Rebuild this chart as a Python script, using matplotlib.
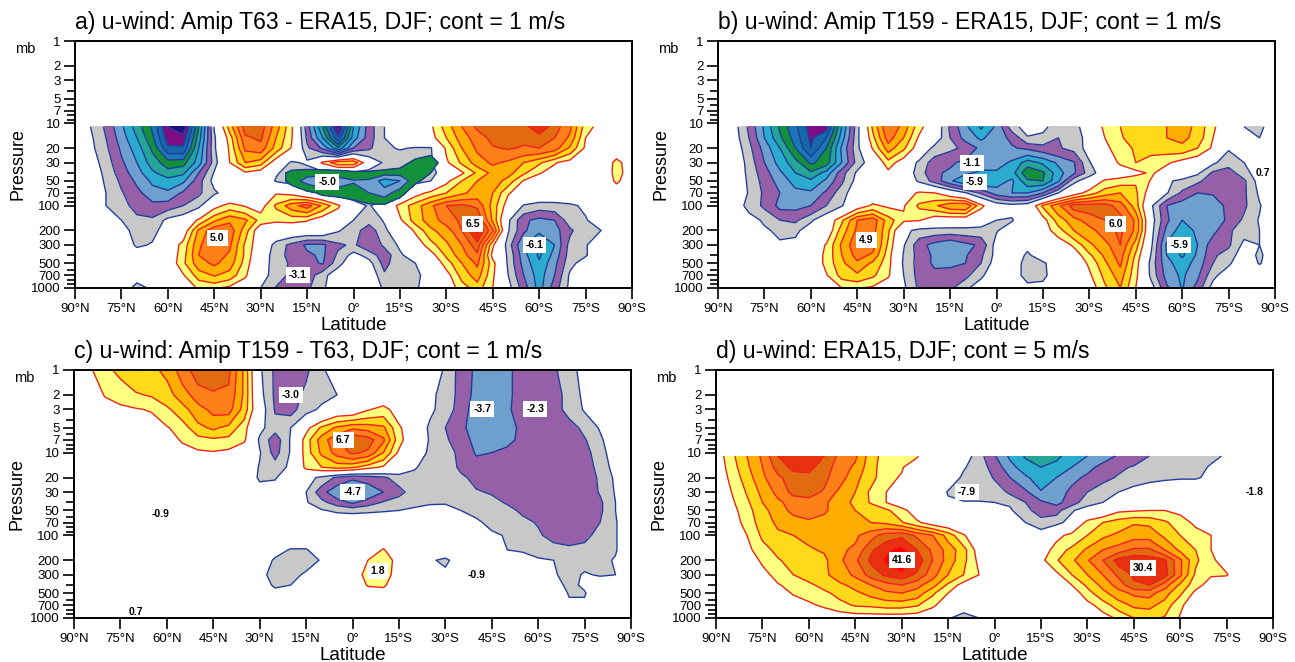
import numpy as np
import matplotlib
matplotlib.use('Agg')
import matplotlib.pyplot as plt

plt.rcParams['font.family'] = ['Liberation Sans', 'DejaVu Sans']

W, H = 1295, 662

# latitude columns, 90N (+) to 90S (-), every 5 deg
lat = np.arange(90, -95, -5)

# all fields in tenths of one contour interval
# columns: 90N ... 0 | 5S ... 90S
p_upper = [11, 15, 20, 30, 40, 50, 70, 100, 150, 200, 300, 400, 500, 700, 1000]
p_c = [1, 2, 3, 5, 7, 10, 15, 20, 30, 40, 50, 70, 100, 150, 200, 300, 400, 500, 1000]
p_patch = [15, 20, 30, 40, 50, 70, 100, 150]

wind_a = [
    [0,-10,-22,-38,-55,-72,-100,-108,-60,-9,25,55,55,35,12,-25,-60,-105,-50, -25,-10,-3,3,8,25,40,52,56,56,56,68,55,42,15,5,2,1],
    [0,-8,-20,-35,-50,-68,-95,-96,-55,-12,15,48,52,30,11,-22,-50,-88,-45, -25,-10,-5,2,6,20,35,45,53,54,52,55,50,38,10,4,2,1],
    [0,-7,-18,-32,-45,-62,-88,-88,-50,-12,12,42,46,26,9,-18,-32,-58,-30, -22,-12,-9,-11,-11,12,30,42,49,51,49,50,45,28,8,2,3,1],
    [0,-4,-15,-28,-40,-55,-65,-64,-45,-15,10,30,25,2,-12,-8,12,28,28, 0,-12,-18,-18,-12,8,22,35,42,38,30,22,11,5,2,1,13,4],
    [0,-2,-13,-25,-36,-48,-56,-52,-30,-9,4,8,3,-9,-14,-16,-15,-14,-14, -15,-16,-18,-18,-14,-3,8,22,33,34,22,11,5,2,0,0,14,4],
    [0,0,-12,-22,-32,-42,-46,-42,-24,-6,1,1,-1,-11,-15,-15,-15,-15,-15, -15,-15,-15,-14,-10,7,20,30,36,26,9,3,1,0,0,1,12,3],
    [0,0,-10,-19,-27,-36,-38,-28,-22,-12,-4,-1,0,9,6,-5,-9,-15,-16, -17,-18,-12,5,13,20,28,34,30,11,4,2,0,0,0,0,3,1],
    [0,0,-10,-16,-24,-27,-25,-20,-13,6,14,9,5,22,36,45,28,12,-5, -11,-3,14,25,38,50,52,48,26,4,-11,-15,-14,-12,-8,0,0,0],
    [0,0,-5,-10,-17,-18,-7,-2,12,28,38,32,16,12,13,11,2,0,-10, -16,-9,8,25,35,45,52,60,28,-8,-28,-33,-30,-14,-11,-3,0,0],
    [0,0,0,-8,-12,-13,-5,2,32,47,46,25,0,0,0,0,0,-9,-15, -26,-12,-2,12,28,35,50,72,42,-9,-28,-38,-34,-22,-12,-10,-2,0],
    [0,0,0,-1,-12,-9,0,14,38,50,42,18,1,-14,-23,-32,-32,-22,-18, -28,-18,-8,2,16,28,40,56,12,-15,-40,-50,-40,-16,-11,-2,0,0],
    [0,0,0,0,-3,-2,0,16,40,46,38,18,-3,-15,-24,-28,-32,-18,-6, -14,-26,-12,-3,5,22,36,48,6,-12,-36,-52,-36,-15,-11,-2,0,0],
    [0,0,0,0,-1,0,0,18,36,42,35,16,-5,-14,-22,-27,-31,-14,-1, -6,-24,-12,-10,-2,15,30,42,14,-12,-34,-48,-33,-13,-5,-1,0,0],
    [0,0,0,0,-5,0,0,9,25,31,26,12,-6,-14,-23,-26,-14,-2,0, -1,-18,-20,-14,-2,5,24,35,12,-10,-30,-45,-30,-8,-1,0,0,0],
    [0,0,0,-3,-14,-8,0,5,11,12,7,1,-10,-21,-24,-22,-12,-1,0, -1,-12,-14,-12,-2,2,15,25,10,-6,-25,-44,-25,-7,0,0,0,0],
]

# green lobe of panel a, drawn over the main field
patch_a = [
    [0,0,0,0,0,0,0,0,0,0,0,0,0,0,0,0,0,0,0, 0,0,0,0,0,0,0,0,0,0,0,0,0,0,0,0,0,0],
    [0,0,0,0,0,0,0,0,0,0,0,0,0,0,0,0,0,0,0, 0,0,0,0,5,0,0,0,0,0,0,0,0,0,0,0,0,0],
    [0,0,0,0,0,0,0,0,0,0,0,0,0,0,0,0,0,0,0, 0,0,4,14,16,3,0,0,0,0,0,0,0,0,0,0,0,0],
    [0,0,0,0,0,0,0,0,0,0,0,0,0,3,14,16,15,14,12, 12,15,16,13,10,0,0,0,0,0,0,0,0,0,0,0,0,0],
    [0,0,0,0,0,0,0,0,0,0,0,0,0,2,15,24,30,26,21, 22,35,30,12,6,0,0,0,0,0,0,0,0,0,0,0,0,0],
    [0,0,0,0,0,0,0,0,0,0,0,0,0,0,0,7,12,14,15, 20,25,14,3,0,0,0,0,0,0,0,0,0,0,0,0,0,0],
    [0,0,0,0,0,0,0,0,0,0,0,0,0,0,0,0,0,0,5, 8,8,2,0,0,0,0,0,0,0,0,0,0,0,0,0,0,0],
    [0,0,0,0,0,0,0,0,0,0,0,0,0,0,0,0,0,0,0, 0,0,0,0,0,0,0,0,0,0,0,0,0,0,0,0,0,0],
]

wind_b = [
    [0,-5,-22,-42,-62,-78,-95,-95,-50,-14,22,50,36,14,0,-22,-38,-52,-38, -14,-5,-8,-14,-14,-3,13,20,25,27,30,35,27,12,0,-10,-14,0],
    [0,-4,-20,-40,-58,-75,-92,-80,-45,-13,17,45,30,8,-2,-20,-34,-42,-34, -28,-11,-12,-20,-15,-6,10,19,24,26,30,33,26,10,0,-5,-10,0],
    [0,-2,-17,-34,-50,-70,-90,-70,-38,-13,11,35,22,3,-14,-18,-22,-33,-34, -31,-28,-24,-21,-17,-5,8,14,22,25,25,27,20,8,-9,-6,0,0],
    [0,0,-14,-30,-44,-56,-72,-65,-40,-16,-3,16,3,-13,-25,-28,-33,-35,-35, -42,-55,-48,-38,-31,-11,1,12,20,14,12,5,0,-8,-16,-10,0,0],
    [0,0,-13,-26,-38,-50,-58,-46,-24,-8,3,7,-1,-15,-28,-32,-38,-42,-42, -46,-68,-62,-44,-32,-15,-3,2,6,12,3,0,-8,-22,-25,-14,-4,0],
    [0,0,-12,-24,-34,-44,-48,-38,-22,-6,0,0,0,-12,-24,-38,-50,-50,-45, -38,-58,-60,-42,-13,-3,12,15,19,9,-8,-13,-18,-25,-30,-22,-5,0],
    [0,0,-11,-22,-30,-37,-38,-28,-14,-3,0,0,2,12,10,1,-9,-22,-35, -40,-40,-30,-10,3,15,25,30,22,3,-9,-22,-30,-29,-28,-22,-8,0],
    [0,-2,-14,-22,-33,-33,-30,-20,-11,3,12,8,9,22,28,38,40,13,-2, -6,-3,22,38,55,55,55,45,25,-8,-30,-36,-36,-36,-27,-22,-11,0],
    [0,0,-5,-12,-20,-22,-12,0,18,40,46,25,12,11,2,0,0,-3,-10, -11,0,5,25,36,45,50,55,38,-5,-28,-40,-36,-36,-28,-18,-9,-1],
    [0,0,0,-8,-13,-13,-3,0,25,42,44,22,-6,-14,-14,-14,-14,-14,-11, -3,0,4,16,30,36,46,52,38,-6,-33,-45,-38,-33,-22,-14,-10,-2],
    [0,0,0,0,-8,-6,0,11,32,48,45,18,-9,-26,-34,-40,-33,-28,-5, 0,-7,0,2,12,28,36,50,25,-8,-42,-52,-40,-24,-22,-7,-10,0],
    [0,0,0,0,0,0,0,13,30,44,38,15,-11,-24,-32,-33,-31,-22,-6, -2,-12,-3,0,3,18,32,45,18,-11,-40,-52,-38,-22,-15,-4,-12,-3],
    [0,0,0,0,0,0,0,13,28,38,28,14,-12,-24,-32,-32,-30,-20,-4, -4,-14,-12,-2,0,12,28,42,15,-14,-37,-45,-36,-20,-12,-1,-11,-2],
    [0,0,0,0,0,0,0,9,24,28,22,12,-10,-24,-27,-26,-23,-12,-2, -3,-15,-13,-2,0,8,23,35,13,-13,-34,-42,-32,-13,-3,0,0,0],
    [0,0,0,0,0,0,0,4,10,11,8,0,-8,-22,-25,-22,-12,-4,0, 0,-6,-6,0,0,3,18,30,10,-5,-28,-41,-26,-5,0,0,0,0],
]

wind_c = [
    [0,8,18,22,26,28,32,45,55,58,52,28,-8,-22,-26,-22,-12,-3,0, 0,0,0,0,0,-12,-24,-32,-36,-31,-28,-26,-22,-13,-7,0,0,0],
    [0,0,11,15,19,21,26,35,45,48,48,28,-6,-22,-26,-17,-13,-10,-3, 0,0,0,0,-8,-13,-24,-33,-36,-31,-28,-27,-26,-15,-8,-2,0,0],
    [0,0,3,7,9,11,18,26,36,43,44,26,-3,-21,-24,-14,-8,0,0, 9,14,4,0,-8,-14,-25,-35,-36,-31,-27,-26,-25,-16,-9,-3,0,0],
    [0,0,0,0,0,3,9,15,27,32,27,14,-7,-16,-10,6,22,32,38, 36,32,12,0,-12,-20,-28,-34,-36,-33,-28,-27,-26,-25,-17,-9,0,0],
    [0,0,0,0,0,0,2,12,16,18,17,12,-12,-26,-9,15,35,48,60, 55,42,14,0,-11,-18,-27,-32,-36,-32,-28,-27,-26,-26,-21,-12,-2,0],
    [0,0,0,0,0,0,0,3,8,9,7,0,-9,-24,-9,15,32,44,52, 48,30,8,-3,-12,-15,-23,-31,-30,-28,-27,-27,-27,-27,-24,-14,-4,0],
    [0,0,0,0,0,0,0,0,0,0,0,0,-11,-15,-8,13,20,24,22, 14,8,0,-9,-14,-14,-22,-26,-27,-27,-27,-27,-27,-27,-26,-16,-6,0],
    [0,0,0,0,0,0,0,0,0,0,0,0,-12,-11,-2,-5,-13,-22,-28, -25,-22,-15,-13,-12,-14,-18,-23,-27,-27,-27,-27,-27,-28,-27,-18,-8,0],
    [0,0,0,0,0,0,0,0,0,0,0,0,-4,-4,0,-10,-26,-38,-42, -38,-30,-24,-14,-13,-13,-15,-19,-21,-25,-27,-29,-28,-28,-27,-19,-9,0],
    [0,0,0,0,0,0,0,0,0,0,0,0,0,0,0,-9,-17,-25,-32, -25,-19,-14,-13,-11,-11,-13,-14,-17,-21,-24,-27,-29,-29,-29,-22,-10,0],
    [0,0,0,0,0,0,0,0,0,0,0,0,0,0,0,-2,-9,-12,-13, -12,-11,-10,-8,-7,-6,-10,-13,-15,-17,-22,-26,-29,-29,-30,-22,-10,0],
    [0,0,0,0,0,0,0,0,0,0,0,0,0,0,0,0,0,0,0, 0,0,0,0,0,0,0,-8,-13,-15,-17,-21,-26,-27,-28,-20,-11,0],
    [0,0,0,0,0,0,0,0,0,0,0,0,0,0,0,0,0,0,0, 0,0,0,0,0,0,0,-2,-8,-11,-13,-18,-25,-30,-24,-15,-11,0],
    [0,0,0,0,0,0,0,0,0,0,0,0,0,-5,-11,-11,-3,0,0, 3,11,0,0,0,0,0,0,0,-10,-11,-13,-14,-15,-15,-13,-11,0],
    [0,0,0,0,0,0,0,0,0,0,0,0,-1,-12,-15,-15,-9,0,1, 10,17,5,0,-8,-13,-2,0,0,-3,-6,-9,-10,-12,-13,-13,-9,0],
    [0,0,0,0,0,0,0,0,0,0,0,0,-5,-16,-14,-8,0,0,2, 15,17,3,0,-3,-6,0,0,0,0,-3,-7,-9,-13,-9,-11,-10,0],
    [0,0,0,0,0,0,0,0,0,0,0,0,0,-13,-10,-4,0,0,1, 11,12,1,0,0,0,0,0,0,0,0,-2,-5,-13,-8,-3,-4,0],
    [0,0,0,0,0,0,0,0,0,0,0,0,0,-4,-4,0,0,0,0, 4,5,0,0,0,0,0,0,0,0,0,0,-1,-11,-11,0,0,0],
    [0,0,0,0,0,0,0,0,0,0,0,0,0,0,0,0,0,0,0, 0,0,0,0,0,0,0,0,0,0,0,0,0,-3,-3,0,0,0],
]

wind_d = [
    [3,17,30,42,60,68,68,60,47,42,25,15,14,11,0,0,-3,-16,-29, -42,-51,-58,-52,-46,-40,-34,-29,-26,-20,-17,-15,-15,-12,-9,-2,0,0],
    [2,15,28,40,54,63,63,55,45,38,24,14,11,3,0,-1,-9,-15,-24, -36,-46,-50,-47,-40,-33,-27,-22,-19,-15,-14,-13,-13,-9,-3,0,0,0],
    [1,13,25,38,48,55,57,52,45,33,24,13,9,0,0,-3,-12,-13,-21, -30,-38,-46,-40,-33,-28,-23,-19,-15,-13,-12,-11,-11,-8,0,0,0,0],
    [0,10,21,33,43,53,53,49,37,30,18,10,3,0,0,-11,-16,-16,-14, -22,-28,-39,-36,-27,-20,-14,-10,-6,-3,0,0,0,0,0,0,0,0],
    [0,8,18,30,38,44,47,42,34,28,19,10,2,0,0,-8,-9,-9,-10, -11,-20,-28,-33,-25,-14,-10,-6,-2,0,0,0,0,0,0,0,0,0],
    [0,6,16,27,35,43,45,42,33,30,27,22,14,3,0,0,0,0,0, -9,-15,-28,-24,-11,-5,0,8,9,10,10,8,3,0,0,0,0,0],
    [0,4,14,25,32,35,38,35,32,31,30,28,21,12,4,0,0,0,0, -2,-10,-13,-13,-6,14,20,25,29,28,22,14,8,2,0,0,0,0],
    [1,2,10,22,28,30,32,34,35,38,46,55,58,48,40,26,11,2,0, 0,-7,-7,6,14,20,28,32,36,36,28,20,14,10,0,0,0,0],
    [0,1,7,16,23,27,29,31,38,42,58,68,74,60,48,36,24,4,0, 0,0,1,16,22,32,40,45,52,52,40,28,20,10,3,0,0,0],
    [0,0,3,12,19,24,25,28,38,48,62,72,85,66,50,36,23,7,0, 0,0,7,19,28,39,50,64,68,66,62,42,22,12,5,0,0,0],
    [0,0,1,6,14,20,24,28,35,42,54,62,66,58,44,30,20,10,4, 0,0,0,7,20,30,40,52,62,66,64,42,18,11,11,0,0,0],
    [0,0,0,3,9,14,18,23,28,33,40,46,50,43,34,18,5,0,0, 0,0,0,0,10,22,33,44,58,60,45,28,14,5,0,0,0,0],
    [0,0,0,1,5,11,14,18,23,28,33,38,40,36,22,10,1,0,0, 0,0,0,0,3,16,27,36,42,44,34,22,7,0,0,0,0,0],
    [0,0,0,0,1,4,8,12,17,21,22,24,24,21,12,3,-5,-8,-4, 0,0,0,0,0,6,15,25,32,33,26,12,3,0,0,0,0,0],
    [0,0,0,0,0,0,0,0,2,3,3,3,3,2,0,-9,-14,-10,0, 0,0,0,0,0,0,5,12,20,22,19,9,1,0,0,0,0,0],
]

titles = ['a) u-wind: Amip T63 - ERA15, DJF; cont = 1 m/s',
          'b) u-wind: Amip T159 - ERA15, DJF; cont = 1 m/s',
          'c) u-wind: Amip T159 - T63, DJF; cont = 1 m/s',
          'd) u-wind: ERA15, DJF; cont = 5 m/s']

labels_a = [(44, 250, '5.0'), (18, 700, '-3.1'), (8.5, 52, '-5.0'), (-38.5, 165, '6.5'), (-58.5, 300, '-6.1')]
labels_b = [(42, 260, '4.9'), (8, 30, '-1.1'), (7, 52, '-5.9'), (-38.5, 165, '6.0'), (-59, 300, '-5.9')]
labels_c = [(20, 2, '-3.0'), (3, 7, '6.7'), (0, 30, '-4.7'), (-8, 270, '1.8'), (-42, 3, '-3.7'), (-59, 3, '-2.3')]
labels_d = [(30, 200, '41.6'), (-48, 250, '30.4'), (9, 30, '-7.9')]
plain_b = [(-86, 40, '0.7')]
plain_c = [(62, 55, '-0.9'), (-40, 300, '-0.9'), (70, 850, '0.7')]
plain_d = [(-84, 30, '-1.8')]

levels = [-300, -100, -90, -80, -70, -60, -50, -40, -30, -20, -10, 10, 20, 30, 40, 50, 60, 70, 80, 300]
colors = ['#1B1080', '#7D0C85', '#1668A8', '#1C76B8', '#12903A', '#24A596', '#2BACCF', '#6F9FCC',
          '#9560A8', '#C8C8C8', '#FFFFFF',
          '#FFFF80', '#FFD91A', '#FFAD00', '#FF8018', '#E26B10', '#E8320F', '#FF0000', '#FF0000']
line_levels = [l for l in levels[1:-1]]
line_colors = ['#1F3C98' if l < 0 else '#F02020' for l in line_levels]

major_p = [1, 2, 3, 5, 7, 10, 20, 30, 50, 70, 100, 200, 300, 500, 700, 1000]
minor_p = [4, 6, 8, 9, 40, 60, 80, 90, 400, 600, 800, 900]
lat_ticks = np.arange(90, -105, -15)
lat_names = ['90°N', '75°N', '60°N', '45°N', '30°N', '15°N', '0°',
             '15°S', '30°S', '45°S', '60°S', '75°S', '90°S']


def add_axes(fig, left, top, right, bottom):
    return fig.add_axes([left / W, 1 - bottom / H, (right - left) / W, (bottom - top) / H])


def draw_panel(ax, p, wind, title, boxed, plain):
    wind = np.array(wind, dtype=float)
    ax.contourf(lat, p, wind, levels=levels, colors=colors)
    ax.contour(lat, p, wind, levels=line_levels, colors=line_colors, linewidths=1.0)
    ax.set_xlim(90, -90)
    ax.set_yscale('log')
    ax.set_ylim(1000, 1)
    ax.set_yticks(major_p)
    ax.set_yticklabels([str(v) for v in major_p])
    ax.set_yticks(minor_p, minor=True)
    ax.set_yticklabels([], minor=True)
    ax.set_xticks(lat_ticks)
    ax.set_xticklabels(lat_names)
    ax.tick_params(axis='both', which='major', length=8, width=1.2, labelsize=9.5, pad=2.5)
    ax.tick_params(axis='y', which='minor', length=6, width=1.2)
    for side in ax.spines.values():
        side.set_linewidth(1.4)
    ax.set_xlabel('Latitude', fontsize=13.6, labelpad=2)
    ax.set_ylabel('Pressure', fontsize=13, labelpad=3)
    ax.text(0, 1.048, title, transform=ax.transAxes, fontsize=16.6, ha='left', va='baseline')
    ax.text(-0.09, 0.968, 'mb', transform=ax.transAxes, fontsize=10.5, ha='center', va='center')
    for x, y, s in boxed:
        ax.text(x, y, s, fontsize=7.5, fontweight='bold', ha='center', va='center', zorder=6,
                bbox=dict(facecolor='white', edgecolor='none', pad=2.2))
    for x, y, s in plain:
        ax.text(x, y, s, fontsize=7.5, fontweight='bold', ha='center', va='center', zorder=6)


fig = plt.figure(figsize=(W / 100, H / 100), dpi=100)

ax_a = add_axes(fig, 75, 41, 632, 288)
ax_b = add_axes(fig, 718, 41, 1275, 288)
ax_c = add_axes(fig, 74, 370, 631, 618)
ax_d = add_axes(fig, 716, 370, 1273, 618)

draw_panel(ax_a, p_upper, wind_a, titles[0], labels_a, [])
ax_a.contourf(lat, p_patch, np.array(patch_a, dtype=float), levels=[10, 20, 30, 70],
              colors=['#12903A', '#6F9FCC', '#2BACCF'], zorder=3)
ax_a.contour(lat, p_patch, np.array(patch_a, dtype=float), levels=[10, 20, 30],
             colors='#1F3C98', linewidths=1.0, zorder=3)
draw_panel(ax_b, p_upper, wind_b, titles[1], labels_b, plain_b)
draw_panel(ax_c, p_c, wind_c, titles[2], labels_c, plain_c)
draw_panel(ax_d, p_upper, wind_d, titles[3], labels_d, plain_d)

fig.savefig('out.png', dpi=100)
